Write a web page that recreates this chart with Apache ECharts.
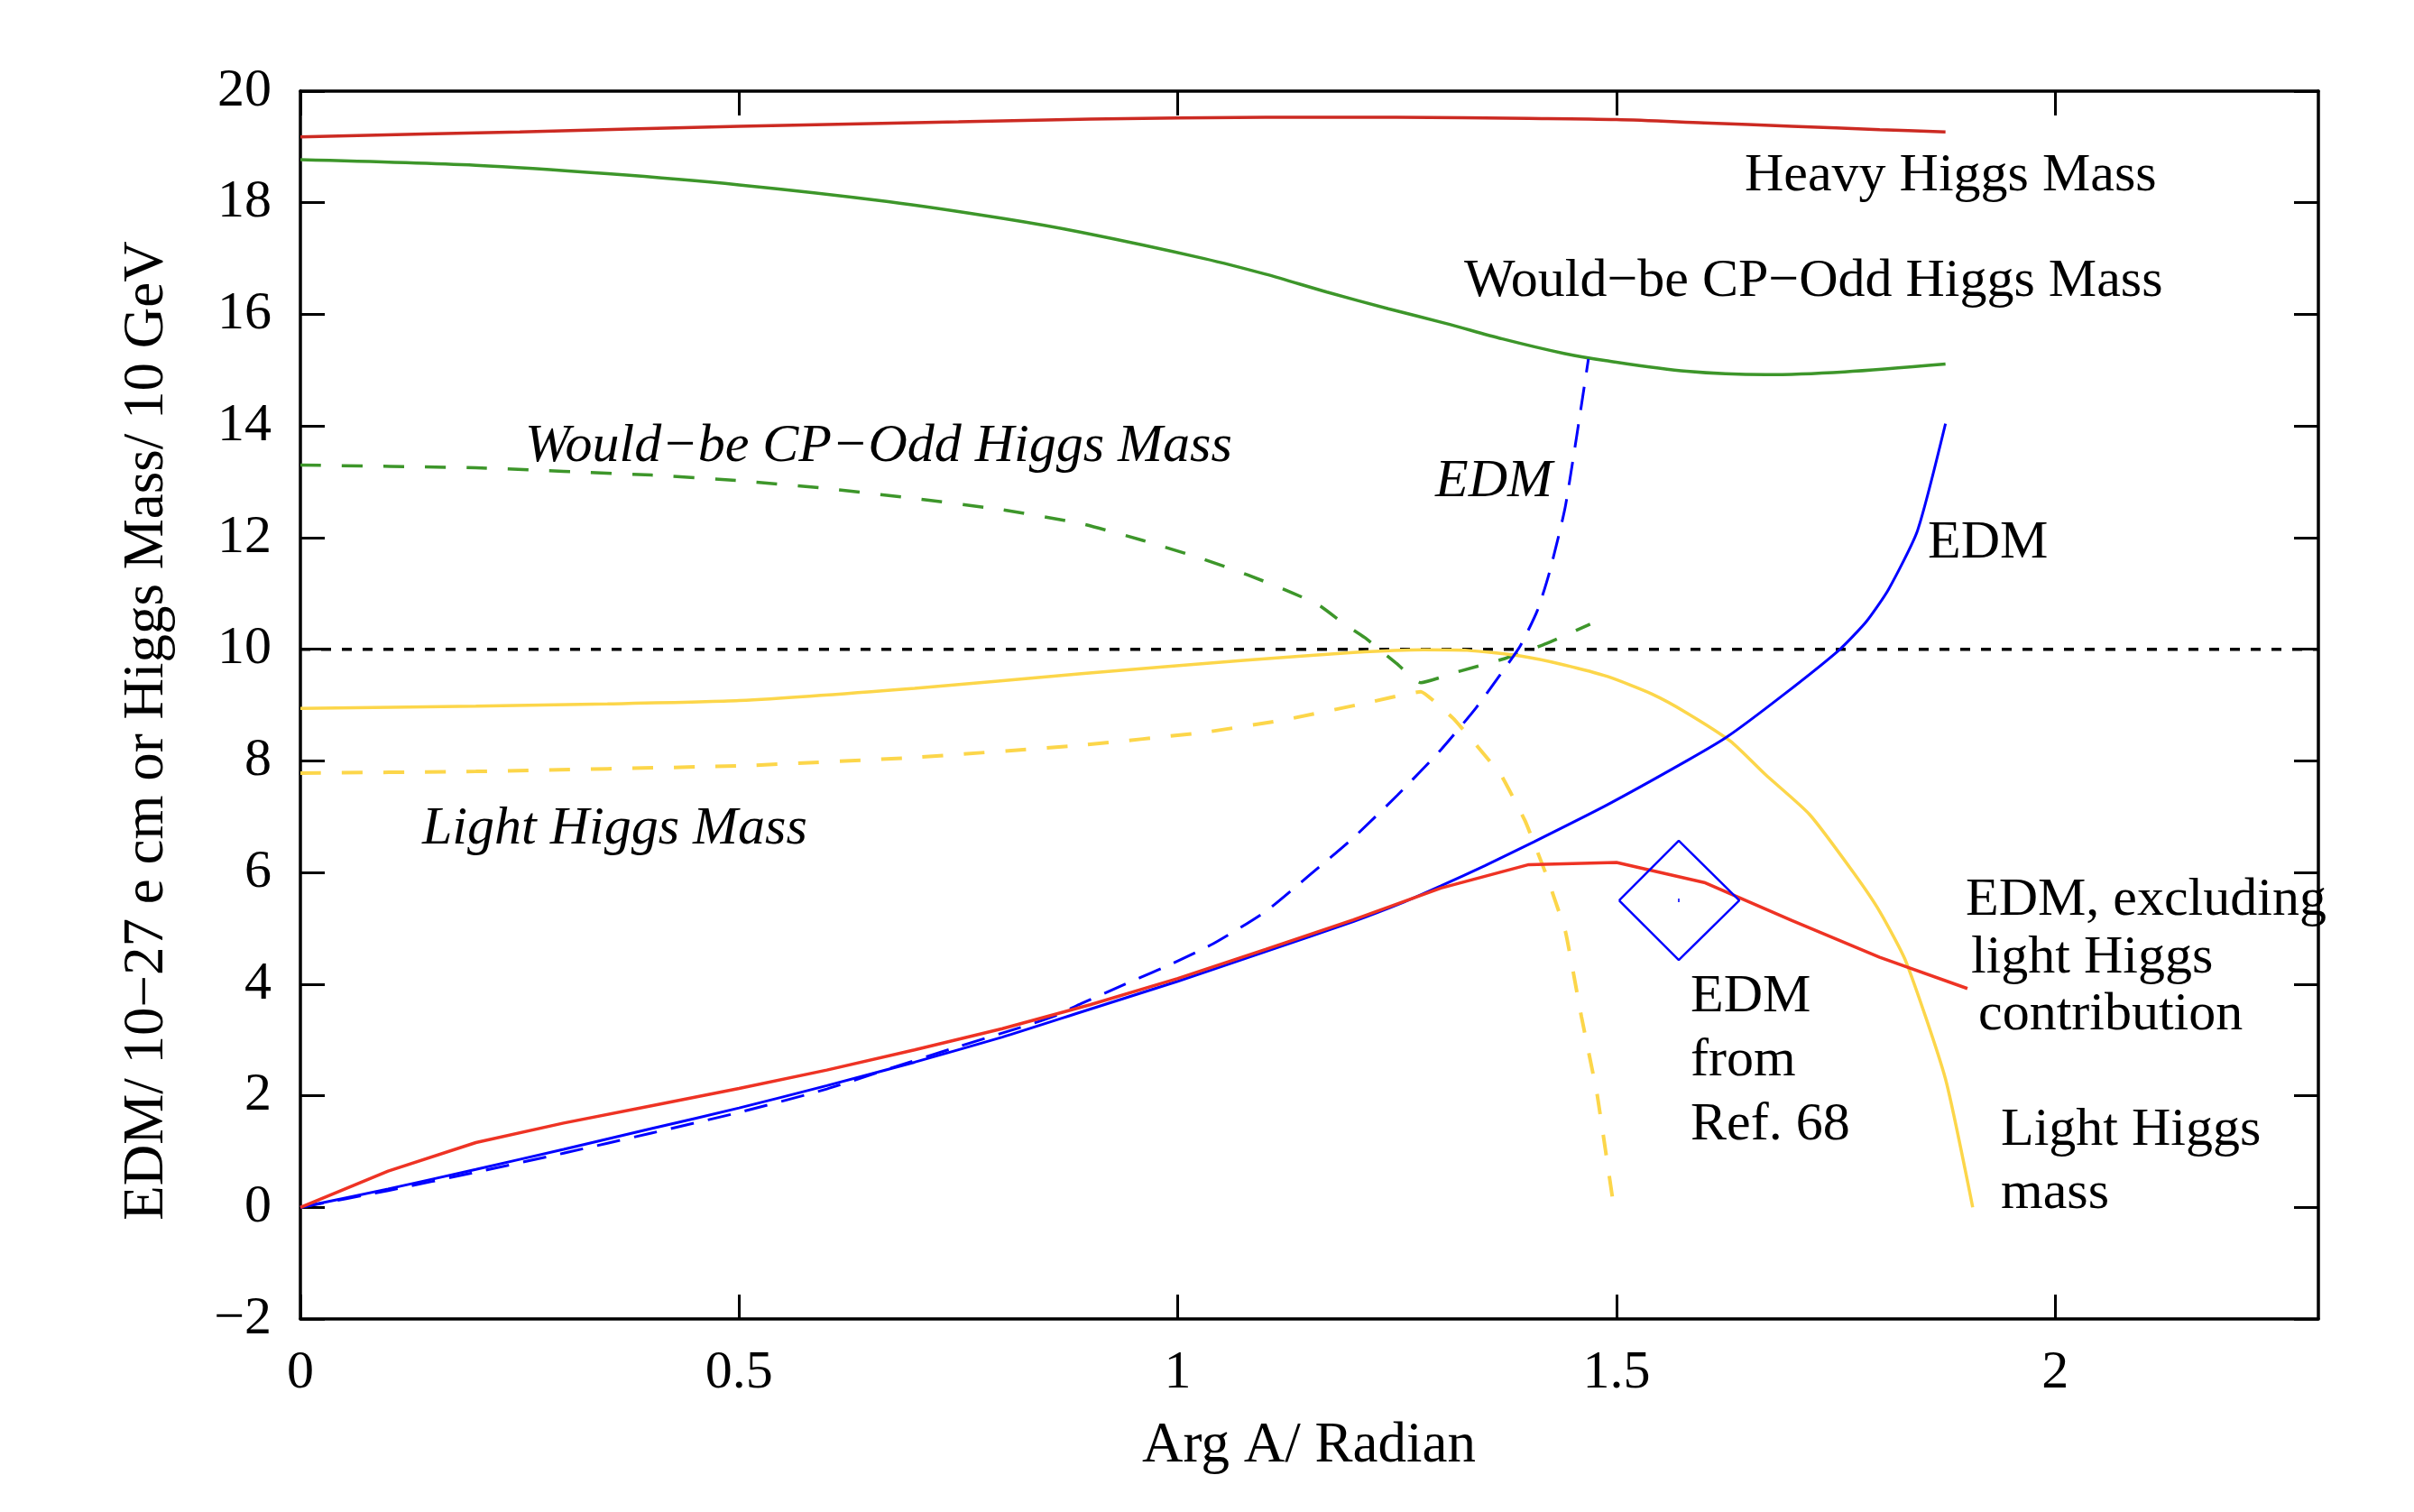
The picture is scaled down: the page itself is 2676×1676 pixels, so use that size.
<!DOCTYPE html>
<html>
<head>
<meta charset="utf-8">
<script src="https://cdn.jsdelivr.net/npm/echarts@6.0.0/dist/echarts.min.js"></script>
<style>
  html, body { margin: 0; padding: 0; background: #fff; }
  #chart { width: 2676px; height: 1676px; }
</style>
</head>
<body>
<div id="chart"></div>
<script>
// values, [Arg A (rad), value]
const heavyHiggs = [[0, 19.18], [0.25, 19.27], [0.5, 19.37], [0.75, 19.45], [0.9, 19.5], [1.1, 19.53], [1.25, 19.53], [1.4, 19.51], [1.5, 19.49], [1.6, 19.43], [1.7, 19.37], [1.8, 19.31], [1.875, 19.27]];

const cpOddHiggs = [[0, 18.77], [0.2, 18.67], [0.35, 18.52], [0.5, 18.32], [0.67, 18.02], [0.8, 17.72], [0.89, 17.47], [1.03, 17.0], [1.1, 16.72], [1.17, 16.4], [1.24, 16.1], [1.305, 15.84], [1.37, 15.56], [1.44, 15.3], [1.488, 15.17], [1.58, 14.98], [1.67, 14.92], [1.76, 14.97], [1.875, 15.11]];

const cpOddHiggsDashed = [[0, 13.3], [0.2, 13.25], [0.4, 13.12], [0.5, 13.02], [0.6, 12.88], [0.7, 12.7], [0.8, 12.5], [0.89, 12.25], [0.96, 11.95], [1.03, 11.61], [1.08, 11.33], [1.12, 11.08], [1.16, 10.8], [1.19, 10.45], [1.213, 10.21], [1.249, 9.75], [1.277, 9.4], [1.32, 9.6], [1.37, 9.82], [1.42, 10.1], [1.47, 10.45]];

const lightHiggs = [[0, 8.94], [0.2, 8.98], [0.35, 9.02], [0.5, 9.08], [0.7, 9.3], [0.89, 9.56], [1.075, 9.8], [1.2, 9.94], [1.28, 9.99], [1.33, 9.98], [1.39, 9.88], [1.44, 9.72], [1.49, 9.51], [1.54, 9.2], [1.58, 8.86], [1.63, 8.35], [1.67, 7.75], [1.72, 7.04], [1.77, 6.0], [1.8, 5.3], [1.83, 4.4], [1.875, 2.3], [1.906, 0]];

const lightHiggsDashed = [[0, 7.78], [0.2, 7.81], [0.5, 7.91], [0.7, 8.06], [0.89, 8.28], [1.03, 8.51], [1.12, 8.73], [1.21, 9.02], [1.277, 9.24], [1.314, 8.76], [1.341, 8.27], [1.369, 7.73], [1.396, 6.92], [1.419, 6.0], [1.442, 4.93], [1.46, 3.42], [1.478, 2.02], [1.497, 0]];

const edm = [[0, 0], [0.1, 0.33], [0.2, 0.68], [0.3, 1.04], [0.4, 1.41], [0.5, 1.78], [0.6, 2.18], [0.7, 2.6], [0.8, 3.05], [0.89, 3.5], [1.0, 4.05], [1.1, 4.58], [1.2, 5.12], [1.258, 5.47], [1.3, 5.76], [1.35, 6.12], [1.406, 6.55], [1.488, 7.2], [1.58, 8.0], [1.626, 8.43], [1.69, 9.18], [1.754, 9.99], [1.785, 10.5], [1.81, 11.07], [1.843, 12.12], [1.875, 14.04]];

const edmDashed = [[0, 0], [0.1, 0.3], [0.2, 0.63], [0.3, 0.97], [0.4, 1.33], [0.5, 1.7], [0.6, 2.12], [0.674, 2.5], [0.75, 2.88], [0.82, 3.22], [0.86, 3.43], [0.89, 3.65], [0.94, 4.0], [0.983, 4.29], [1.04, 4.72], [1.1, 5.3], [1.15, 5.95], [1.2, 6.62], [1.25, 7.38], [1.3, 8.2], [1.34, 8.95], [1.37, 9.6], [1.39, 10.05], [1.41, 10.7], [1.424, 11.4], [1.442, 12.58], [1.468, 15.2]];

const edmNoLight = [[0, 0], [0.1, 0.65], [0.2, 1.16], [0.3, 1.51], [0.4, 1.82], [0.5, 2.13], [0.6, 2.46], [0.7, 2.82], [0.8, 3.2], [0.9, 3.63], [1.0, 4.1], [1.1, 4.62], [1.2, 5.15], [1.3, 5.72], [1.4, 6.14], [1.5, 6.18], [1.6, 5.82], [1.7, 5.14], [1.8, 4.48], [1.9, 3.92]];

// EDM from Ref. 68: central value with error box
const refCenter = [[1.571, 5.5]];
const refBox = [[1.503, 5.5], [1.571, 6.57], [1.64, 5.5], [1.571, 4.43], [1.503, 5.5]];

const limitLine = [[0, 10], [2.3, 10]];

const xTicks = [0, 0.5, 1, 1.5, 2];

const font = "'Liberation Serif', 'Times New Roman', serif";

let chart = echarts.init(document.getElementById('chart'));

let minus = (v) => String(v).replace('-', '\u2212');

let xAxisBase = (pos, showLabel) => ({
  type: 'value',
  position: pos,
  min: 0,
  max: 2.3,
  interval: 0.5,
  axisLine: { show: true, onZero: false, lineStyle: { color: '#000', width: 3.5 } },
  axisTick: { show: true, inside: true, length: 27, customValues: xTicks, lineStyle: { color: '#000', width: 3 } },
  axisLabel: { show: showLabel, customValues: xTicks, margin: 30, fontSize: 60, fontFamily: font, color: '#000', formatter: minus },
  splitLine: { show: false }
});

let yAxisBase = (pos, showLabel) => ({
  type: 'value',
  position: pos,
  min: -2,
  max: 20,
  interval: 2,
  axisLine: { show: true, onZero: false, lineStyle: { color: '#000', width: 3.5 } },
  axisTick: { show: true, inside: true, length: 27, lineStyle: { color: '#000', width: 3 } },
  axisLabel: { show: showLabel, margin: 32, padding: [10, 0, 0, 0], fontSize: 60, fontFamily: font, color: '#000', formatter: minus },
  splitLine: { show: false }
});

let line = (data, color, width, type, smooth) => ({
  type: 'line',
  data: data,
  showSymbol: false,
  smooth: smooth || false,
  lineStyle: { color: color, width: width, type: type || 'solid' },
  silent: true
});

let label = (x, y, text, italic) => ({
  type: 'text',
  x: x,
  y: y + 5,
  style: {
    text: text,
    font: (italic ? 'italic ' : '') + '60px ' + font,
    fill: '#000',
    align: 'left',
    verticalAlign: 'middle'
  }
});

let options = {
  animation: false,
  backgroundColor: '#fff',
  grid: { left: 333, top: 101, width: 2237, height: 1361, containLabel: false },
  xAxis: [xAxisBase('bottom', true), xAxisBase('top', false)],
  yAxis: [yAxisBase('left', true), yAxisBase('right', false)],
  series: [
    line(limitLine, '#000', 3.5, [11, 12]),
    line(heavyHiggs, '#cc2a22', 3.5, 'solid', 0.3),
    line(cpOddHiggs, '#3d962a', 3.5, 'solid', 0.3),
    line(cpOddHiggsDashed, '#3d962a', 3.5, [23, 23], 0.15),
    line(lightHiggs, '#fcd64a', 3.5, 'solid', 0.2),
    line(lightHiggsDashed, '#fcd64a', 4, [23, 23], 0.1),
    line(edmDashed, '#0000ff', 3, [26, 16], 0.2),
    line(edm, '#0000ff', 3, 'solid', 0.2),
    line(edmNoLight, '#ee3324', 3.5),
    line(refBox, '#0000ff', 2.5),
    {
      type: 'scatter',
      data: refCenter,
      symbol: 'rect',
      symbolSize: [2, 4],
      itemStyle: { color: '#0000ff' },
      silent: true
    }
  ],
  graphic: [
    label(1934, 190, 'Heavy Higgs Mass'),
    label(1623, 307, 'Would\u2212be CP\u2212Odd Higgs Mass'),
    label(582, 490, 'Would\u2212be CP\u2212Odd Higgs Mass', true),
    label(1591, 529, 'EDM', true),
    label(2137, 597, 'EDM'),
    label(468, 914, 'Light Higgs Mass', true),
    label(2179, 993, 'EDM, excluding'),
    label(2185, 1057, 'light Higgs'),
    label(2193, 1120, 'contribution'),
    label(1874, 1100, 'EDM'),
    label(1874, 1171, 'from'),
    label(1874, 1242, 'Ref. 68'),
    label(2218, 1248, 'Light Higgs'),
    label(2218, 1318, 'mass'),
    {
      type: 'text',
      x: 1451,
      y: 1603,
      style: { text: 'Arg A/ Radian', font: '63px ' + font, fill: '#000', align: 'center', verticalAlign: 'middle' }
    },
    {
      type: 'text',
      x: 163,
      y: 810,
      rotation: Math.PI / 2,
      style: { text: 'EDM/ 10\u221227 e cm or Higgs Mass/ 10 GeV', font: '63px ' + font, fill: '#000', align: 'center', verticalAlign: 'middle' }
    }
  ]
};

chart.setOption(options);
</script>
</body>
</html>
